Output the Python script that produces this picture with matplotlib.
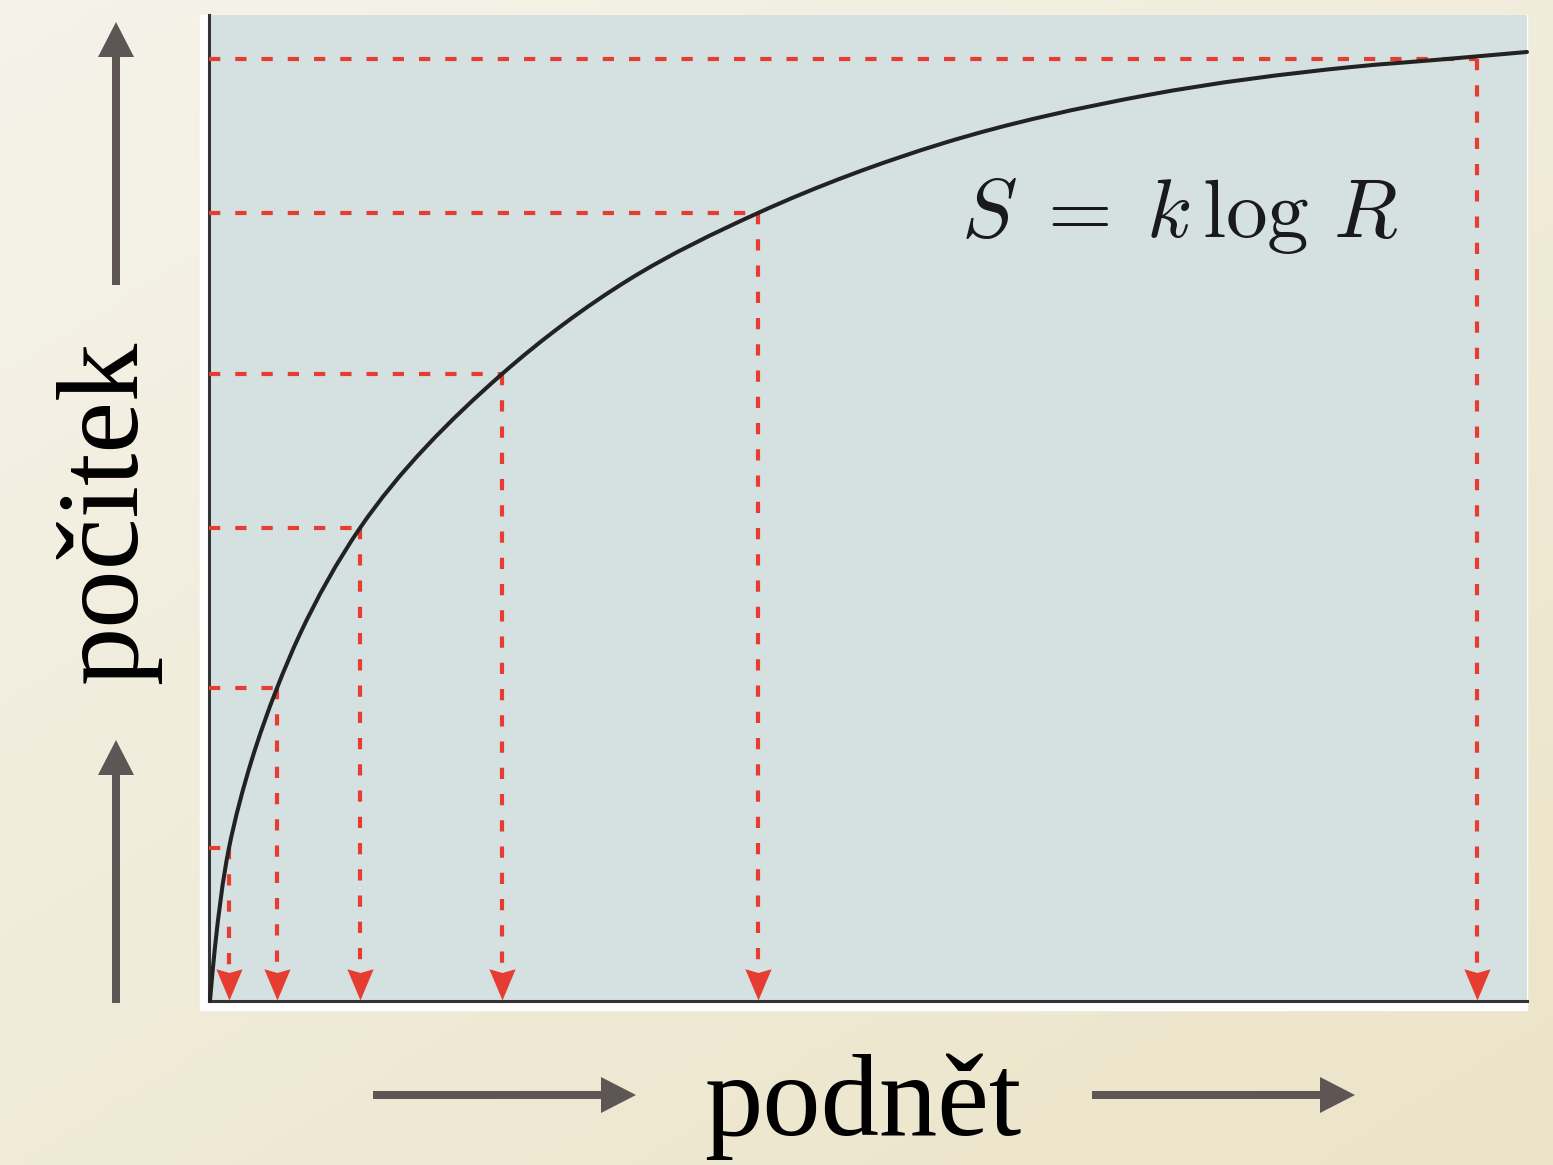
import numpy as np
import matplotlib
matplotlib.use("Agg")
import matplotlib.pyplot as plt
from matplotlib.patches import FancyArrow, Rectangle, PathPatch
from matplotlib.path import Path

plt.rcParams['mathtext.fontset'] = 'cm'

# stimulus / sensation (axis span 0..100 both ways)
curve_R = [0.08, 0.455, 1.517, 3.240, 5.159, 6.904, 11.457, 22.231, 31.942,
           41.654, 55.766, 71.244, 86.722, 93.93, 100.0]
curve_S = [0.1, 5.48, 15.52, 24.44, 31.74, 37.22, 47.97, 63.59, 73.23,
           79.92, 87.02, 91.89, 94.73, 95.54, 96.25]

# marked points (equal steps in sensation)
mark_R = [1.52, 5.16, 11.46, 22.23, 41.65, 96.21]
mark_S = [15.52, 31.74, 47.97, 63.59, 79.92, 95.54]

xlabel = "podnět"
ylabel = "počitek"
formula = r"$S\;=\;k\,\log\,R$"

W, H = 1553, 1165
red = '#e63c32'
grey = '#5e5655'

fig = plt.figure(figsize=(W / 100, H / 100), dpi=100)

# background layer in pixel coordinates
bg = fig.add_axes([0, 0, 1, 1], zorder=-1)
bg.set_xlim(0, W)
bg.set_ylim(H, 0)
bg.axis('off')
yy, xx = np.mgrid[0:1:200j, 0:1:200j]
t = (0.45 * xx + 0.55 * yy)[..., None]
c0 = np.array([0xf5, 0xf3, 0xea]) / 255
c1 = np.array([0xec, 0xe4, 0xc8]) / 255
bg.imshow(c0 * (1 - t) + c1 * t, extent=(0, W, H, 0), aspect='auto')
bg.add_patch(Rectangle((200, 15), 1327, 995, color='white', zorder=1))

arrow_kw = dict(width=8, head_width=36, head_length=35,
                length_includes_head=True, color=grey, lw=0, zorder=2)
bg.add_patch(FancyArrow(116, 285, 0, -263, **arrow_kw))
bg.add_patch(FancyArrow(116, 1003, 0, -263, **arrow_kw))
bg.add_patch(FancyArrow(373, 1095, 263, 0, **arrow_kw))
bg.add_patch(FancyArrow(1092, 1095, 263, 0, **arrow_kw))

bg.text(108, 512, ylabel, rotation=90, ha='center', va='center',
        fontsize=84, family='Liberation Serif', color='black')
bg.text(863, 1107, xlabel, ha='center', va='center',
        fontsize=84, family='Liberation Serif', color='black')

# main chart
ax = fig.add_axes([209 / W, 1 - 1001 / H, 1318 / W, 986 / H])
ax.set_facecolor('#d5e0e0')
ax.set_xlim(0, 100)
ax.set_ylim(0, 100)
ax.set_xticks([])
ax.set_yticks([])
for s in ['top', 'right']:
    ax.spines[s].set_visible(False)
for s in ['left', 'bottom']:
    ax.spines[s].set_color('#333333')
    ax.spines[s].set_linewidth(2.2)

# smooth curve through the read points (Bessel tangents, chord-length, cubic Bezier)
scale = np.array([13.18, 9.86])
Q = np.column_stack([curve_R, curve_S]) * scale
h = np.linalg.norm(np.diff(Q, axis=0), axis=1)
delta = np.diff(Q, axis=0) / h[:, None]
m = np.empty_like(Q)
m[0], m[-1] = delta[0], delta[-1]
for i in range(1, len(Q) - 1):
    m[i] = (h[i] * delta[i - 1] + h[i - 1] * delta[i]) / (h[i - 1] + h[i])
verts = [Q[0]]
codes = [Path.MOVETO]
for i in range(len(Q) - 1):
    verts += [Q[i] + m[i] * h[i] / 3, Q[i + 1] - m[i + 1] * h[i] / 3, Q[i + 1]]
    codes += [Path.CURVE4] * 3
verts = np.array(verts) / scale
ax.add_patch(PathPatch(Path(verts, codes), fill=False, edgecolor='#222222',
                       lw=2.9, capstyle='round', clip_on=False, zorder=4))

head = [(0, 0), (-0.42, 1), (0, 0.88), (0.42, 1), (0, 0)]
for r, s in zip(mark_R, mark_S):
    ax.plot([0, r], [s, s], color=red, lw=3.0, dashes=(2.7, 3.6),
            dash_capstyle='butt', zorder=3)
    ax.plot([r, r], [s, 2.8], color=red, lw=3.0, dashes=(2.7, 3.6),
            dash_capstyle='butt', zorder=3)
    ax.plot(r, 0.1, marker=head, markersize=45, color=red, mec='none',
            clip_on=False, zorder=3)

ax.text(0.736, 0.775, formula, transform=ax.transAxes, ha='center',
        va='baseline', fontsize=60, color='#1a1a1a')

fig.savefig("out.png", dpi=100)
